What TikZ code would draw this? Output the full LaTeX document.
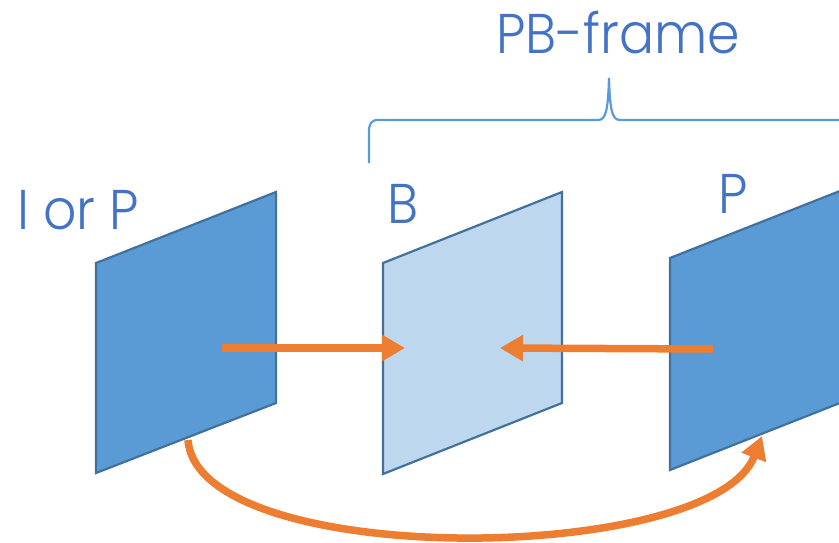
\documentclass[tikz,border=0pt]{standalone}
\usepackage{fontspec}
\setmainfont{Poppins}[UprightFont=* Light, FakeStretch=0.93]
\usetikzlibrary{arrows.meta}
\definecolor{txtblue}{HTML}{4472C4}
\definecolor{panelblue}{HTML}{5B9BD5}
\definecolor{panelline}{HTML}{41719C}
\definecolor{panellight}{HTML}{BDD7EE}
\definecolor{arrorange}{HTML}{ED7D31}
\definecolor{bracecol}{HTML}{5B9BD5}
\tikzset{
  panel/.style={draw=panelline, line width=2.2pt, fill=panelblue, line join=miter},
  panelb/.style={panel, fill=panellight},
  lbl/.style={text=txtblue, font=\fontsize{56}{60}\selectfont, anchor=base west, inner sep=0pt},
  orarrow/.style={draw=arrorange, line width=7.5pt, -{Triangle[length=23pt,width=25pt]}},
  bracestyle/.style={draw=bracecol, line width=2.2pt}
}
\begin{document}
\begin{tikzpicture}[x=1pt,y=-1pt]
\useasboundingbox (0,0) rectangle (839,542);
\clip (0,0) rectangle (839,542);
% panels
\draw[panel]  (96,263) -- (276,192) -- (276,403) -- (96,473) -- cycle;
\draw[panelb] (383,263) -- (562,192) -- (562,403) -- (383,474) -- cycle;
\draw[panel]  (670,258) -- (850,187) -- (850,399) -- (670,470) -- cycle;
% labels
\node[lbl] (lIP) at (17,229) {I or P};
\node[lbl] (lB) at (387,223) {B};
\node[lbl] (lP) at (718,213) {P};
\node[lbl] (lPB) at (496,53) {PB-frame};
% brace
\draw[bracestyle] (369,163) -- (369,132) .. controls (369,124) and (371,120) .. (378,120)
  -- (598,120) .. controls (606,120) and (608,110) .. (609,78)
  .. controls (610,110) and (612,120) .. (620,120) -- (850,120);
% arrow coordinates
\coordinate (a1s) at (222,348);
\coordinate (a1e) at (405,348);
\coordinate (a2s) at (713,349);
\coordinate (a2e) at (500,348);
\coordinate (cs) at (188,440);
\coordinate (ce) at (762,436);
\draw[orarrow] (a1s) -- (a1e);
\draw[orarrow] (a2s) -- (a2e);
\draw[orarrow] (cs) .. controls (198,570) and (712,566) .. (ce);
\end{tikzpicture}
\end{document}
